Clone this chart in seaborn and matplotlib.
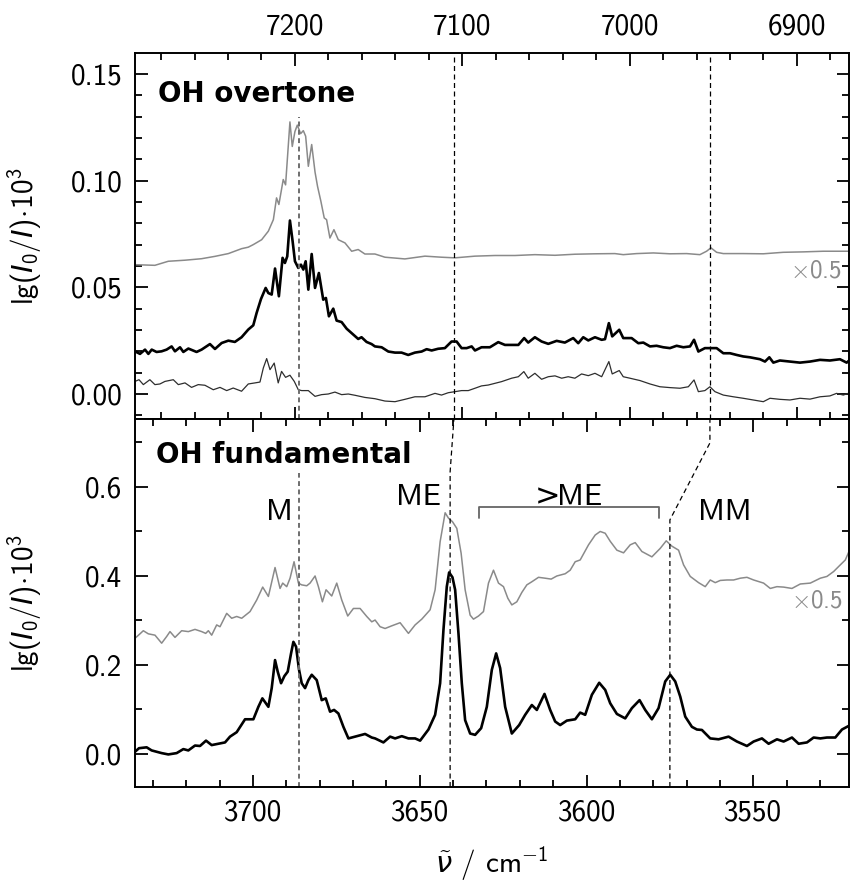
import matplotlib
matplotlib.use("Agg")
import matplotlib.pyplot as plt
from matplotlib.ticker import MultipleLocator, FormatStrFormatter
import seaborn as sns

# ---------------- OH overtone (top panel) ----------------
# wavenumber / cm-1 and lg(I0/I)*1e3
ovt_gray_wn = [7295.6, 7283.7, 7275.7, 7265.7, 7255.8, 7247.8, 7239.8, 7231.9, 7227.9, 7224.9,
               7219.9, 7215.9, 7212.9, 7211.0, 7209.6, 7207.0, 7205.6, 7203.0, 7201.6, 7200.0,
               7198.6, 7196.6, 7195.0, 7193.6, 7192.0, 7190.0, 7188.0, 7186.5, 7184.5, 7182.5,
               7181.1, 7179.1, 7176.7, 7174.1, 7170.1, 7166.1, 7162.2, 7158.2, 7152.2, 7146.2,
               7134.3, 7122.3, 7112.4, 7104.4, 7092.4, 7080.5, 7068.5, 7056.6, 7044.6, 7032.7,
               7020.7, 7008.8, 7003.8, 6995.8, 6985.8, 6975.9, 6965.9, 6958.0, 6954.0, 6951.4,
               6948.0, 6944.0, 6932.1, 6920.1, 6908.2, 6896.2, 6884.3, 6868.3]
ovt_gray = [0.0606, 0.0603, 0.0622, 0.0627, 0.0634, 0.0645, 0.0658, 0.0681, 0.0688, 0.0700,
            0.0723, 0.0763, 0.0817, 0.0919, 0.0888, 0.1005, 0.0980, 0.1275, 0.1160, 0.1230,
            0.1260, 0.1220, 0.1234, 0.1208, 0.1067, 0.1169, 0.1040, 0.0973, 0.0903, 0.0825,
            0.0817, 0.0731, 0.0770, 0.0723, 0.0708, 0.0669, 0.0677, 0.0656, 0.0656, 0.0641,
            0.0633, 0.0646, 0.0641, 0.0638, 0.0646, 0.0649, 0.0649, 0.0653, 0.0650, 0.0655,
            0.0657, 0.0658, 0.0653, 0.0658, 0.0661, 0.0657, 0.0658, 0.0653, 0.0669, 0.0685,
            0.0664, 0.0658, 0.0658, 0.0657, 0.0664, 0.0666, 0.0669, 0.0669]

ovt_main_wn = [7295.6, 7292.6, 7289.6, 7287.6, 7285.6, 7282.7, 7279.7, 7276.7, 7273.7, 7271.7,
               7268.7, 7266.7, 7263.7, 7258.8, 7255.8, 7250.8, 7247.8, 7243.8, 7239.8, 7235.9,
               7231.9, 7227.9, 7224.9, 7222.9, 7220.3, 7217.5, 7215.9, 7213.9, 7211.9, 7209.6,
               7207.4, 7206.0, 7204.6, 7203.0, 7201.4, 7200.0, 7198.0, 7196.4, 7195.0, 7193.6,
               7192.0, 7190.0, 7188.0, 7185.7, 7183.1, 7181.5, 7179.7, 7177.1, 7175.1, 7172.1,
               7169.1, 7165.1, 7162.2, 7160.2, 7157.2, 7154.2, 7152.2, 7148.2, 7144.2, 7140.2,
               7136.3, 7132.3, 7128.3, 7124.3, 7121.3, 7118.3, 7114.4, 7110.4, 7106.4, 7103.4,
               7100.4, 7097.4, 7094.4, 7092.4, 7088.5, 7083.5, 7078.5, 7074.5, 7070.5, 7066.5,
               7063.0, 7060.6, 7056.6, 7052.6, 7048.6, 7043.6, 7038.7, 7033.7, 7030.7, 7027.7,
               7024.7, 7020.7, 7016.7, 7014.7, 7012.4, 7010.4, 7006.2, 7003.8, 6998.8, 6994.8,
               6991.8, 6987.8, 6983.9, 6979.9, 6975.9, 6971.9, 6967.9, 6963.9, 6961.5, 6958.9,
               6955.0, 6951.4, 6948.0, 6944.0, 6940.0, 6936.0, 6932.1, 6928.1, 6922.1, 6919.1,
               6916.5, 6914.1, 6910.2, 6904.2, 6898.2, 6892.2, 6886.2, 6880.3, 6874.3, 6870.3,
               6868.3]
ovt_main = [0.0200, 0.0188, 0.0208, 0.0188, 0.0208, 0.0197, 0.0200, 0.0208, 0.0223, 0.0200,
            0.0219, 0.0197, 0.0213, 0.0197, 0.0208, 0.0234, 0.0211, 0.0239, 0.0250, 0.0244,
            0.0266, 0.0302, 0.0322, 0.0380, 0.0445, 0.0497, 0.0473, 0.0466, 0.0588, 0.0458,
            0.0638, 0.0614, 0.0645, 0.0813, 0.0716, 0.0622, 0.0591, 0.0606, 0.0583, 0.0622,
            0.0489, 0.0656, 0.0497, 0.0567, 0.0442, 0.0450, 0.0364, 0.0400, 0.0344, 0.0337,
            0.0306, 0.0278, 0.0258, 0.0266, 0.0244, 0.0234, 0.0223, 0.0219, 0.0199, 0.0194,
            0.0194, 0.0183, 0.0194, 0.0199, 0.0210, 0.0204, 0.0212, 0.0215, 0.0246, 0.0246,
            0.0215, 0.0215, 0.0223, 0.0204, 0.0219, 0.0219, 0.0243, 0.0230, 0.0230, 0.0230,
            0.0262, 0.0241, 0.0266, 0.0246, 0.0235, 0.0249, 0.0241, 0.0262, 0.0238, 0.0266,
            0.0251, 0.0266, 0.0254, 0.0257, 0.0332, 0.0270, 0.0301, 0.0262, 0.0262, 0.0238,
            0.0241, 0.0223, 0.0226, 0.0219, 0.0215, 0.0226, 0.0219, 0.0223, 0.0254, 0.0199,
            0.0215, 0.0215, 0.0215, 0.0191, 0.0191, 0.0183, 0.0176, 0.0172, 0.0163, 0.0152,
            0.0172, 0.0147, 0.0157, 0.0152, 0.0147, 0.0152, 0.0160, 0.0157, 0.0163, 0.0147,
            0.0160]

ovt_thin_wn = [7295.6, 7293.2, 7290.6, 7286.7, 7283.7, 7280.7, 7277.7, 7272.7, 7269.7, 7265.7,
               7261.8, 7257.8, 7253.8, 7248.8, 7244.8, 7240.8, 7236.9, 7231.9, 7227.9, 7223.9,
               7220.9, 7218.9, 7216.9, 7214.9, 7212.4, 7210.0, 7208.0, 7205.6, 7203.0, 7200.4,
               7198.0, 7196.0, 7192.0, 7188.0, 7184.1, 7180.1, 7176.1, 7172.1, 7168.1, 7164.1,
               7158.2, 7152.2, 7146.2, 7140.2, 7134.3, 7128.3, 7122.3, 7116.3, 7112.4, 7108.4,
               7104.4, 7100.4, 7096.4, 7092.4, 7088.5, 7084.5, 7080.5, 7076.5, 7070.5, 7066.5,
               7063.2, 7060.6, 7056.6, 7052.6, 7048.6, 7044.6, 7040.6, 7036.7, 7032.7, 7028.7,
               7024.7, 7020.7, 7016.7, 7012.4, 7010.4, 7006.2, 7003.8, 6999.8, 6993.8, 6987.8,
               6981.9, 6975.9, 6969.9, 6964.9, 6961.5, 6958.9, 6955.0, 6952.0, 6949.0, 6944.0,
               6938.0, 6932.1, 6926.1, 6920.1, 6916.1, 6910.2, 6904.2, 6898.2, 6892.2, 6886.2,
               6880.3, 6876.3, 6872.3, 6868.3]
ovt_thin = [0.0059, 0.0067, 0.0044, 0.0067, 0.0044, 0.0047, 0.0059, 0.0067, 0.0044, 0.0052,
            0.0031, 0.0044, 0.0041, 0.0020, 0.0031, 0.0016, 0.0028, 0.0013, 0.0047, 0.0052,
            0.0056, 0.0122, 0.0166, 0.0114, 0.0145, 0.0052, 0.0106, 0.0078, 0.0088, 0.0059,
            0.0020, 0.0016, 0.0016, -0.0011, -0.0003, 0.0000, 0.0009, -0.0003, 0.0000, -0.0006,
            -0.0016, -0.0022, -0.0033, -0.0036, -0.0025, -0.0013, -0.0013, 0.0003, -0.0005, 0.0006,
            0.0011, 0.0016, 0.0016, 0.0027, 0.0038, 0.0042, 0.0050, 0.0058, 0.0074, 0.0081,
            0.0105, 0.0074, 0.0097, 0.0069, 0.0081, 0.0085, 0.0074, 0.0081, 0.0074, 0.0094,
            0.0086, 0.0097, 0.0081, 0.0152, 0.0094, 0.0110, 0.0081, 0.0074, 0.0063, 0.0047,
            0.0034, 0.0030, 0.0027, 0.0034, 0.0066, 0.0011, 0.0016, 0.0034, 0.0011, -0.0005,
            -0.0013, -0.0020, -0.0028, -0.0036, -0.0020, -0.0025, -0.0028, -0.0020, -0.0024, -0.0013,
            -0.0009, 0.0003, -0.0005, 0.0006]

# ---------------- OH fundamental (bottom panel) ----------------
fund_gray_wn = [3735.4, 3733.9, 3732.9, 3731.4, 3729.4, 3727.4, 3725.9, 3724.9, 3723.4, 3721.4,
                3719.4, 3717.4, 3715.4, 3714.2, 3713.4, 3712.4, 3710.9, 3709.9, 3707.9, 3706.4,
                3704.9, 3703.4, 3700.9, 3698.9, 3697.1, 3695.4, 3693.4, 3691.9, 3691.1, 3689.9,
                3688.9, 3687.7, 3686.4, 3685.4, 3683.9, 3682.9, 3681.4, 3680.4, 3679.2, 3678.1,
                3676.4, 3674.9, 3673.4, 3671.6, 3669.9, 3667.9, 3665.9, 3664.4, 3663.4, 3661.9,
                3660.4, 3658.4, 3655.9, 3653.4, 3651.4, 3649.4, 3646.9, 3645.4, 3643.9, 3642.4,
                3641.4, 3640.2, 3638.9, 3637.6, 3636.4, 3634.9, 3633.9, 3632.4, 3630.9, 3629.4,
                3627.9, 3626.4, 3624.9, 3623.6, 3622.4, 3620.9, 3619.4, 3617.9, 3616.4, 3614.4,
                3612.4, 3610.6, 3608.9, 3606.4, 3604.9, 3603.4, 3601.9, 3599.4, 3597.4, 3595.9,
                3594.4, 3592.9, 3590.9, 3588.9, 3586.9, 3585.4, 3583.4, 3580.4, 3577.9, 3576.1,
                3574.4, 3572.4, 3570.9, 3568.9, 3566.4, 3564.4, 3562.9, 3561.4, 3559.9, 3557.9,
                3555.9, 3553.9, 3551.9, 3549.9, 3546.9, 3544.9, 3542.9, 3540.9, 3538.4, 3535.9,
                3532.9, 3529.9, 3527.9, 3525.9, 3523.9, 3522.4, 3520.9]
fund_gray = [0.260, 0.270, 0.277, 0.270, 0.267, 0.249, 0.264, 0.275, 0.262, 0.277,
             0.275, 0.280, 0.275, 0.271, 0.277, 0.267, 0.290, 0.286, 0.316, 0.305,
             0.309, 0.305, 0.320, 0.346, 0.375, 0.354, 0.419, 0.372, 0.384, 0.376,
             0.395, 0.432, 0.384, 0.380, 0.378, 0.384, 0.400, 0.376, 0.342, 0.369,
             0.355, 0.384, 0.346, 0.310, 0.327, 0.327, 0.309, 0.297, 0.301, 0.286,
             0.282, 0.288, 0.295, 0.271, 0.290, 0.303, 0.324, 0.369, 0.477, 0.542,
             0.530, 0.522, 0.507, 0.451, 0.369, 0.312, 0.303, 0.310, 0.320, 0.384,
             0.413, 0.384, 0.376, 0.350, 0.335, 0.342, 0.363, 0.380, 0.387, 0.397,
             0.395, 0.393, 0.400, 0.405, 0.413, 0.432, 0.436, 0.470, 0.492, 0.500,
             0.496, 0.478, 0.458, 0.452, 0.470, 0.475, 0.455, 0.443, 0.462, 0.479,
             0.467, 0.458, 0.425, 0.399, 0.385, 0.376, 0.391, 0.385, 0.390, 0.391,
             0.391, 0.395, 0.397, 0.391, 0.384, 0.372, 0.376, 0.375, 0.372, 0.382,
             0.384, 0.395, 0.399, 0.410, 0.425, 0.436, 0.462]

fund_main_wn = [3735.4, 3734.2, 3731.9, 3730.4, 3727.4, 3725.4, 3722.9, 3720.9, 3719.4, 3717.4,
                3715.9, 3714.1, 3712.4, 3710.4, 3708.4, 3706.9, 3704.9, 3702.4, 3699.9, 3698.4,
                3697.2, 3695.4, 3694.4, 3693.4, 3692.6, 3691.6, 3690.6, 3689.6, 3688.6, 3687.9,
                3687.1, 3686.2, 3685.4, 3684.4, 3683.4, 3682.4, 3680.9, 3679.4, 3678.2, 3676.9,
                3675.7, 3674.4, 3672.9, 3671.4, 3669.4, 3666.4, 3664.4, 3663.4, 3660.9, 3658.9,
                3657.4, 3655.4, 3653.4, 3651.4, 3649.9, 3647.4, 3645.4, 3643.9, 3642.9, 3641.9,
                3641.2, 3640.2, 3639.4, 3638.4, 3637.4, 3636.4, 3634.9, 3633.4, 3631.6, 3629.9,
                3628.4, 3627.1, 3625.9, 3624.4, 3622.4, 3620.2, 3618.4, 3616.4, 3614.9, 3612.6,
                3610.9, 3609.4, 3607.9, 3605.9, 3603.4, 3601.9, 3600.4, 3598.4, 3596.2, 3594.4,
                3592.9, 3590.9, 3588.4, 3586.4, 3584.1, 3582.4, 3580.4, 3578.4, 3576.4, 3574.9,
                3573.4, 3571.9, 3570.4, 3568.4, 3566.9, 3565.4, 3562.9, 3560.4, 3557.4, 3554.9,
                3551.9, 3549.9, 3547.4, 3545.4, 3542.9, 3540.9, 3538.4, 3536.4, 3533.9, 3531.9,
                3529.9, 3527.9, 3525.4, 3523.4, 3520.9]
fund_main = [0.005, 0.013, 0.015, 0.008, 0.002, -0.001, 0.002, 0.011, 0.008, 0.019,
             0.018, 0.030, 0.020, 0.023, 0.026, 0.039, 0.049, 0.078, 0.078, 0.106,
             0.125, 0.106, 0.148, 0.211, 0.185, 0.159, 0.175, 0.185, 0.226, 0.252,
             0.241, 0.189, 0.159, 0.148, 0.166, 0.178, 0.166, 0.121, 0.125, 0.095,
             0.099, 0.091, 0.061, 0.035, 0.039, 0.045, 0.037, 0.035, 0.026, 0.039,
             0.035, 0.040, 0.035, 0.035, 0.030, 0.055, 0.088, 0.159, 0.279, 0.376,
             0.408, 0.397, 0.369, 0.271, 0.159, 0.076, 0.046, 0.043, 0.058, 0.106,
             0.189, 0.226, 0.193, 0.106, 0.046, 0.065, 0.088, 0.110, 0.099, 0.135,
             0.099, 0.073, 0.065, 0.075, 0.078, 0.093, 0.088, 0.133, 0.160, 0.144,
             0.114, 0.090, 0.080, 0.103, 0.121, 0.099, 0.078, 0.103, 0.163, 0.178,
             0.163, 0.129, 0.084, 0.061, 0.055, 0.054, 0.035, 0.033, 0.039, 0.028,
             0.018, 0.028, 0.035, 0.023, 0.033, 0.028, 0.037, 0.023, 0.026, 0.037,
             0.035, 0.037, 0.037, 0.055, 0.065]

# band positions / cm-1 (overtone, fundamental)
ovt_lines = [7197.6, 7105.0, 6952.0]
fund_lines = [3686.2, 3640.9, 3575.0]
band_labels = ["M", "ME", r"$\!\mathsf{>}\!\!$ME", "MM"]
band_label_pos = [(3692.0, 0.526), (3650.4, 0.560), (3605.5, 0.560), (3558.7, 0.526)]
bracket_wn = [3632.3, 3578.3]

ovt_xlim = (7295.6, 6868.9)
ovt_ylim = (-0.0117, 0.1598)
fund_xlim = (3735.4, 3521.3)
fund_ylim = (-0.0742, 0.7528)

GRAY = "#8a8a8a"
DARK = "#2e2e2e"
DASH_GRAY = "#6e6e6e"

sns.set_theme(style="ticks")
plt.rcParams["font.family"] = ["cmss10", "DejaVu Sans"]
plt.rcParams["mathtext.fontset"] = "custom"
plt.rcParams["mathtext.rm"] = "cmss10"
plt.rcParams["mathtext.it"] = "DejaVu Sans:italic"
plt.rcParams["mathtext.bf"] = "DejaVu Sans:bold"
plt.rcParams["mathtext.sf"] = "DejaVu Sans"
plt.rcParams["axes.unicode_minus"] = False
plt.rcParams["axes.formatter.use_mathtext"] = False
for key in ("text.color", "axes.labelcolor", "xtick.color", "ytick.color", "axes.edgecolor"):
    plt.rcParams[key] = "black"

fig = plt.figure(figsize=(8.5, 8.92), dpi=100)
ax_top = fig.add_axes([0.1588, 0.5303, 0.8400, 0.4103])
ax_bot = fig.add_axes([0.1588, 0.1177, 0.8400, 0.4126])


def trace(ax, wn, val, color, lw):
    sns.lineplot(x=wn, y=val, ax=ax, color=color, linewidth=lw,
                 estimator=None, sort=False, legend=False)


trace(ax_top, ovt_gray_wn, ovt_gray, GRAY, 1.1)
trace(ax_top, ovt_thin_wn, ovt_thin, DARK, 0.9)
trace(ax_top, ovt_main_wn, ovt_main, "black", 1.9)
trace(ax_bot, fund_gray_wn, fund_gray, GRAY, 1.1)
trace(ax_bot, fund_main_wn, fund_main, "black", 1.9)

ax_top.set_xlim(*ovt_xlim)
ax_top.set_ylim(*ovt_ylim)
ax_bot.set_xlim(*fund_xlim)
ax_bot.set_ylim(*fund_ylim)

ax_top.xaxis.set_major_locator(MultipleLocator(100))
ax_top.xaxis.set_minor_locator(MultipleLocator(20))
ax_top.yaxis.set_major_locator(MultipleLocator(0.05))
ax_top.yaxis.set_minor_locator(MultipleLocator(0.01))
ax_top.yaxis.set_major_formatter(FormatStrFormatter("%.2f"))
ax_bot.xaxis.set_major_locator(MultipleLocator(50))
ax_bot.xaxis.set_minor_locator(MultipleLocator(10))
ax_bot.yaxis.set_major_locator(MultipleLocator(0.2))
ax_bot.yaxis.set_minor_locator(MultipleLocator(0.1))
ax_bot.yaxis.set_major_formatter(FormatStrFormatter("%.1f"))

for ax in (ax_top, ax_bot):
    ax.tick_params(which="both", direction="in", top=True, bottom=True,
                   left=True, right=True, width=1.3, labelsize=21, pad=9)
    ax.tick_params(which="major", length=9)
    ax.tick_params(which="minor", length=5)
    for sp in ax.spines.values():
        sp.set_linewidth(1.4)
    ax.set_ylabel(r"lg$(I_0/I)\!\cdot\!10^3$", fontsize=21)
    ax.yaxis.set_label_coords(-0.127, 0.5)
    ax.set_xlabel("")

ax_top.tick_params(axis="x", labeltop=True, labelbottom=False)
ax_bot.set_xlabel(r"$\tilde{\nu}$ / cm$^{-1}$", fontsize=21)
ax_bot.xaxis.set_label_coords(0.5, -0.155)

ax_top.text(0.032, 0.866, "OH overtone", transform=ax_top.transAxes, fontsize=20,
            fontweight="bold", family="DejaVu Sans", va="baseline")
ax_bot.text(0.030, 0.880, "OH fundamental", transform=ax_bot.transAxes, fontsize=20,
            fontweight="bold", family="DejaVu Sans", va="baseline")
ax_top.text(6873.1, 0.0545, r"$\times$0.5", color=GRAY, fontsize=18, ha="right", va="baseline")
ax_bot.text(3523.1, 0.330, r"$\times$0.5", color=GRAY, fontsize=18, ha="right", va="baseline")

# dashed band markers
ax_top.plot([ovt_lines[0]] * 2, [ovt_ylim[0], 0.130], color=DASH_GRAY, lw=1.4, ls=(0, (2.5, 1.8)))
for x in ovt_lines[1:]:
    ax_top.plot([x, x], ovt_ylim, color="black", lw=0.9, ls=(0, (4, 2.8)))

ax_bot.plot([fund_lines[0]] * 2, [fund_ylim[0], 0.631], color=DASH_GRAY, lw=1.4, ls=(0, (2.5, 1.8)))


def top_to_bottom_x(wn):
    disp = ax_top.transData.transform((wn, 0.0))
    return ax_bot.transData.inverted().transform(disp)[0]


me_top = top_to_bottom_x(ovt_lines[1])
ax_bot.plot([fund_lines[1], fund_lines[1], me_top], [fund_ylim[0], 0.634, fund_ylim[1]],
            color="black", lw=0.9, ls=(0, (4, 2.8)), clip_on=False)
mm_top = top_to_bottom_x(ovt_lines[2])
ax_bot.plot([fund_lines[2], fund_lines[2], mm_top, mm_top],
            [fund_ylim[0], 0.526, 0.699, fund_ylim[1]],
            color="black", lw=0.9, ls=(0, (4, 2.8)), clip_on=False)

ax_bot.plot([bracket_wn[0], bracket_wn[0], bracket_wn[1], bracket_wn[1]],
            [0.530, 0.554, 0.554, 0.530], color="#666666", lw=1.3)
for lab, (x, y) in zip(band_labels, band_label_pos):
    ax_bot.text(x, y, lab, fontsize=22, ha="center", va="baseline")

fig.savefig("out.png", dpi=100)
